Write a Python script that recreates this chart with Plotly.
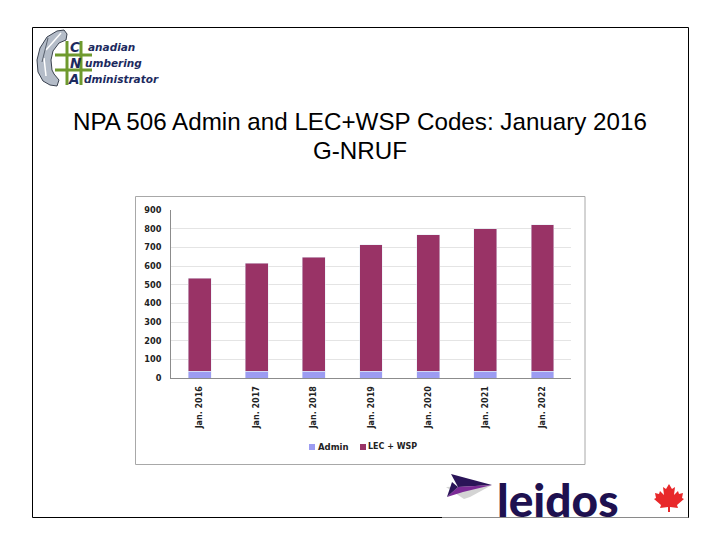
import plotly.graph_objects as go

categories = ["Jan. 2016", "Jan. 2017", "Jan. 2018", "Jan. 2019", "Jan. 2020", "Jan. 2021", "Jan. 2022"]
admin = [36, 36, 36, 36, 36, 36, 36]
lec_wsp = [499, 580, 612, 677, 731, 764, 785]
y_ticks = [0, 100, 200, 300, 400, 500, 600, 700, 800, 900]
series_names = ["Admin", "LEC + WSP"]
series_colors = ["#9c9cf2", "#993366"]
title_lines = ["NPA 506 Admin and LEC+WSP Codes: January 2016", "G‑NRUF"]

W, H = 720, 540
def px(x): return x / W
def py(y): return 1 - y / H
def path(pts, close=True):
    s = "M " + " L ".join(f"{px(x):.5f},{py(y):.5f}" for x, y in pts)
    return s + (" Z" if close else "")
def rect(x0, y0, x1, y1, line=None, fill=None, w=1, layer="above"):
    return dict(type="rect", xref="paper", yref="paper", x0=px(x0), x1=px(x1), y0=py(y0), y1=py(y1),
                line=dict(color=line or "rgba(0,0,0,0)", width=w if line else 0),
                fillcolor=fill or "rgba(0,0,0,0)", layer=layer)
def poly(pts, fill, line=None, w=0, layer="above"):
    return dict(type="path", xref="paper", yref="paper", path=path(pts), fillcolor=fill,
                line=dict(color=line or "rgba(0,0,0,0)", width=w), layer=layer)
def seg(x0, y0, x1, y1, color, w=1, layer="above"):
    return dict(type="line", xref="paper", yref="paper", x0=px(x0), x1=px(x1), y0=py(y0), y1=py(y1),
                line=dict(color=color, width=w), layer=layer)
def note(x, y, text, size, color, family, xa="left", ya="middle", weight="normal", style="normal"):
    return dict(xref="paper", yref="paper", x=px(x), y=py(y), text=text, showarrow=False, xanchor=xa, yanchor=ya,
                font=dict(size=size, color=color, family=family, weight=weight, style=style), borderpad=0, borderwidth=0)

fig = go.Figure()
fig.add_bar(name=series_names[0], x=categories, y=admin, marker_color=series_colors[0], width=0.4)
fig.add_bar(name=series_names[1], x=categories, y=lec_wsp, marker_color=series_colors[1], width=0.4)

shapes = [
    rect(32.5, 27.5, 688.5, 517.5, line="#000000", layer="below"),
    rect(135.5, 196.5, 585, 464.5, line="#a8a8a8", layer="below"),
    rect(442, 474, 688, 516, fill="#ffffff"),
    seg(442, 517.5, 688, 517.5, "#8a8a8a", 1),
    # legend keys
    rect(309, 444, 315, 450, fill=series_colors[0]),
    rect(360, 444, 366, 450, fill=series_colors[1]),
]
# CNA logo: handset
shapes += [
    poly([(64, 30), (57, 31), (47, 37), (40, 48), (37, 60), (38, 72), (43, 81), (50, 85), (57, 86),
          (59, 80), (54, 74), (52, 70), (51, 60), (53, 51), (59, 43), (66, 40), (67, 34)],
         "#b4bcc8", line="#3a4250", w=1),
    seg(61, 33, 46, 50, "#ffffff", 1.5), seg(44, 58, 46, 76, "#ffffff", 1.5),
    seg(48, 38, 42, 62, "#59616e", 1),
]
# CNA logo: green hash
for yy in (55, 70):
    shapes.append(seg(55, yy, 92, yy, "#6f9a2e", 3))
for xx in (67, 81):
    shapes.append(seg(xx, 41, xx, 85, "#6f9a2e", 3))

# Leidos arrow
shapes += [
    poly([(446, 487), (492, 485), (470, 497), (464, 499)], "#d4d4d4"),
    poly([(451, 474), (492, 485), (458, 487)], "#2a1458"),
    poly([(458, 487), (492, 485), (463, 492), (447, 497)], "#7b2a96"),
    poly([(447, 497), (452, 482), (458, 487)], "#2a1458"),
]
# Maple leaf
leaf = [(669, 484), (672, 489), (675, 487), (674, 495), (678, 491), (679, 494), (683, 493), (682, 498), (684, 499),
        (677, 505), (678, 508), (670, 507), (670, 512), (668, 512), (668, 507), (660, 508), (661, 505), (654, 499),
        (656, 498), (655, 493), (659, 494), (660, 491), (664, 495), (663, 487), (666, 489)]
shapes.append(poly(leaf, "#e8282a"))

logo_font = "DejaVu Sans"
logo_navy = "#1c2a5e"
annotations = [
    note(360, 121, title_lines[0], 24.2, "#000000", "Liberation Sans", xa="center"),
    note(360, 150, title_lines[1], 24.2, "#000000", "Liberation Sans", xa="center"),
    note(70, 47, "C", 13.5, logo_navy, logo_font, weight="bold", style="italic"),
    note(70, 63, "N", 13.5, logo_navy, logo_font, weight="bold", style="italic"),
    note(68, 79, "A", 13.5, logo_navy, logo_font, weight="bold", style="italic"),
    note(88, 47, "anadian", 10.5, logo_navy, logo_font, weight="bold", style="italic"),
    note(85, 63, "umbering", 10.5, logo_navy, logo_font, weight="bold", style="italic"),
    note(84, 79, "dministrator", 10.5, logo_navy, logo_font, weight="bold", style="italic"),
    note(497, 499, "leidos", 46, "#1e1150", "Lato", weight=900),
    note(318, 447, series_names[0], 8.5, "#222222", "DejaVu Sans", weight="bold"),
    note(368, 447, series_names[1], 8, "#222222", "DejaVu Sans", weight="bold"),
]

fig.update_layout(
    barmode="stack", width=W, height=H, margin=dict(l=0, r=0, t=0, b=0),
    paper_bgcolor="#ffffff", plot_bgcolor="#ffffff", showlegend=False,
    font=dict(family="DejaVu Sans", size=8, color="#222222"),
    xaxis=dict(domain=[px(171), px(571)], tickangle=-90, ticks="", showgrid=False, showline=True,
               linecolor="#8c8c8c", linewidth=1, tickfont=dict(size=8, family="DejaVu Sans", color="#222222", weight="bold"),
               anchor="y", zeroline=False, automargin=False, ticklabelstandoff=4),
    yaxis=dict(domain=[py(378), py(210)], range=[0, 900], tickvals=y_ticks, showgrid=True, gridcolor="#e4e4e4",
               gridwidth=1, showline=True, linecolor="#8c8c8c", linewidth=1, zeroline=False, ticks="",
               tickfont=dict(size=8.2, family="DejaVu Sans", color="#222222", weight="bold"),
               anchor="x", automargin=False, ticklabelstandoff=7),
    shapes=shapes, annotations=annotations,
)

fig.write_html("out.html", config=dict(displayModeBar=False),
               post_script="document.body.style.margin='0';document.body.style.overflow='hidden';")
